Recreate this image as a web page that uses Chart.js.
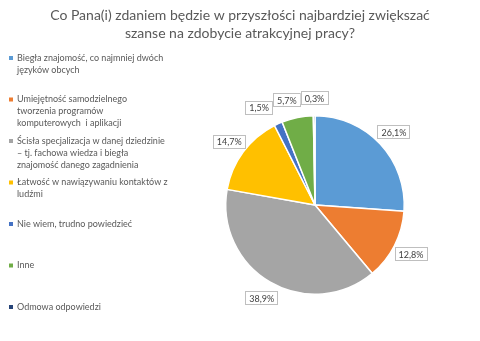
<!DOCTYPE html>
<html>
    <head>
        <meta charset="utf-8">
        <title>Szanse na atrakcyjna prace</title>
        <script src="https://cdn.jsdelivr.net/npm/chart.js@4.4.0/dist/chart.umd.min.js"></script>
        <style>
            body { margin: 0; background: #fff; }
            #wrap { width: 480px; height: 341px; }
        </style>
    </head>
    <body>
        <div id="wrap"><canvas id="pie" width="480" height="341"></canvas></div>
    </body>
    <script>
        // legend lines are wrapped the same way as in the picture
        const categories = [
            ["Biegła znajomość, co najmniej dwóch", "języków obcych"],
            ["Umiejętność samodzielnego", "tworzenia programów", "komputerowych  i aplikacji"],
            ["Ścisła specjalizacja w danej dziedzinie", "– tj. fachowa wiedza i biegła", "znajomość danego zagadnienia"],
            ["Łatwość w nawiązywaniu kontaktów z", "ludźmi"],
            ["Nie wiem, trudno powiedzieć"],
            ["Inne"],
            ["Odmowa odpowiedzi"]
        ];
        const shares = [26.1, 12.8, 38.9, 14.7, 1.5, 5.7, 0.3];
        const colors = ["#5B9BD5", "#ED7D31", "#A5A5A5", "#FFC000", "#4472C4", "#70AD47", "#264478"];
        const titleLines = ["Co Pana(i) zdaniem będzie w przyszłości najbardziej zwiększać", "szanse na zdobycie atrakcyjnej pracy?"];

        const FONT = "Lato, 'Open Sans', sans-serif";

        // value boxes outside the slices, pushed apart when they touch
        const valueBoxes = {
            id: "valueBoxes",
            afterDatasetsDraw(chart) {
                const ctx = chart.ctx;
                const arcs = chart.getDatasetMeta(0).data;
                ctx.save();
                ctx.font = "9px " + FONT;
                let boxes = arcs.map((arc, i) => {
                    const p = arc.getProps(["x", "y", "startAngle", "endAngle", "outerRadius"], true);
                    const mid = (p.startAngle + p.endAngle) / 2;
                    const d = p.outerRadius + 18;
                    const txt = shares[i].toFixed(1).replace(".", ",") + "%";
                    const w = ctx.measureText(txt).width + 7;
                    const cx = p.x + Math.cos(mid) * d;
                    const cy = p.y + Math.sin(mid) * d;
                    return { txt, w, h: 13, x: cx - w / 2, y: cy - 6.5 };
                });
                for (let i = boxes.length - 2; i >= 0; i--) {
                    let a = boxes[i], b = boxes[i + 1];
                    if (a.x + a.w > b.x - 1 && a.y < b.y + b.h && a.y + a.h > b.y && a.x < b.x) {
                        a.x = b.x - 1 - a.w;
                    }
                }
                boxes.forEach(b => {
                    ctx.fillStyle = "#fff";
                    ctx.fillRect(b.x, b.y, b.w, b.h);
                    ctx.strokeStyle = "#BFBFBF";
                    ctx.lineWidth = 1;
                    ctx.strokeRect(Math.round(b.x) + 0.5, Math.round(b.y) + 0.5, Math.round(b.w), b.h);
                    ctx.fillStyle = "#404040";
                    ctx.textAlign = "center";
                    ctx.textBaseline = "middle";
                    ctx.fillText(b.txt, b.x + b.w / 2 + 0.5, b.y + b.h / 2 + 1);
                });
                ctx.restore();
            }
        };

        // title across the whole canvas and legend on the left, items spread evenly like the original
        const sideText = {
            id: "sideText",
            afterDraw(chart) {
                const ctx = chart.ctx;
                ctx.save();
                ctx.textBaseline = "middle";
                ctx.fillStyle = "#595959";
                ctx.font = "14px " + FONT;
                ctx.textAlign = "center";
                titleLines.forEach((line, k) => ctx.fillText(line, chart.width / 2, 15 + k * 18));

                ctx.font = "9px " + FONT;
                ctx.textAlign = "left";
                for (let i = 0; i < categories.length; i++) {
                    const y0 = 58 + i * 41.5;
                    ctx.fillStyle = colors[i];
                    ctx.fillRect(9, y0 - 2, 4, 4);
                    ctx.fillStyle = "#595959";
                    categories[i].forEach((line, k) => ctx.fillText(line, 17, y0 + k * 12));
                }
                ctx.restore();
            }
        };

        new Chart(document.getElementById("pie"), {
            type: "pie",
            data: {
                labels: categories.map(c => c.join(" ")),
                datasets: [{
                    data: shares,
                    backgroundColor: colors,
                    borderColor: "#fff",
                    borderWidth: 1.5
                }]
            },
            options: {
                responsive: false,
                animation: false,
                layout: { padding: { left: 225, right: 75, top: 115, bottom: 46 } },
                plugins: {
                    legend: { display: false },
                    tooltip: { enabled: false },
                    title: { display: false }
                }
            },
            plugins: [valueBoxes, sideText]
        });
    </script>
</html>
